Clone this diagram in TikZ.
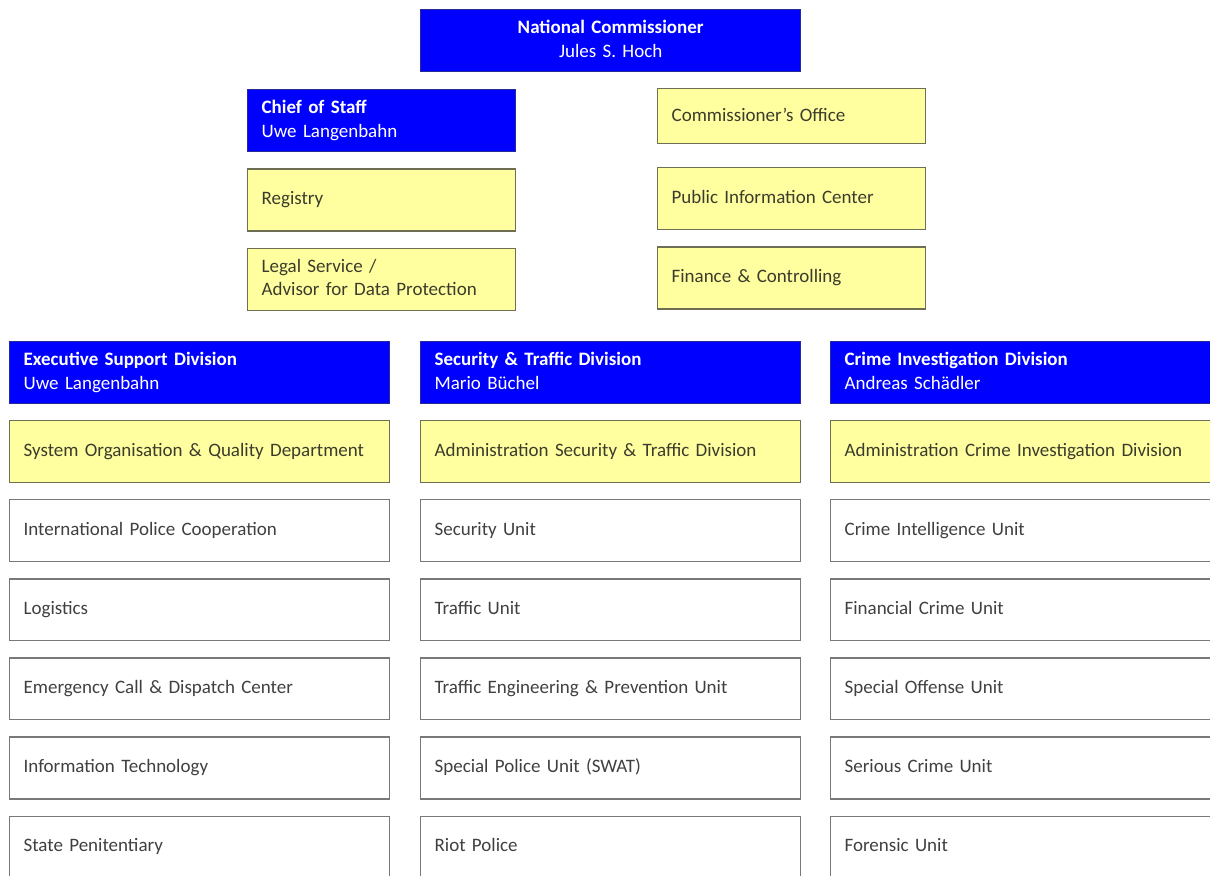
\documentclass[tikz,border=0pt]{standalone}
\usepackage{fontspec}
\setmainfont{Carlito}
\usetikzlibrary{positioning}
\definecolor{headblue}{RGB}{0,0,255}
\definecolor{headline}{RGB}{40,40,150}
\definecolor{staffyellow}{RGB}{255,255,160}
\definecolor{staffline}{RGB}{110,110,85}
\definecolor{staffink}{RGB}{60,60,45}
\definecolor{unitline}{RGB}{120,120,120}
\definecolor{unitink}{RGB}{64,64,64}
\begin{document}
\begin{tikzpicture}[x=0.025cm,y=-0.025cm,node distance=0.4cm,
		box/.style={draw, line width=0.9pt, anchor=north west, inner xsep=0.35cm, inner ysep=0pt, align=left, font=\fontsize{13.5}{17}\selectfont, execute at begin node=\strut, execute at end node=\strut},
		wide/.style={text width=8.8cm, minimum height=1.545cm},
		narrow/.style={text width=6.0cm, minimum height=1.55cm},
		head/.style={box, fill=headblue, draw=headline, text=white},
		staff/.style={box, fill=staffyellow, draw=staffline, text=staffink},
		unit/.style={box, fill=white, draw=unitline, text=unitink}]
		\useasboundingbox (0,0) rectangle (1210,875);
		% Commissioner
		\node [head, wide, align=center] (nc) at (420,9) {\textbf{National Commissioner}\\Jules S. Hoch};
		% Staff left
		\node [head, narrow] (cos) at (247,89) {\textbf{Chief of Staff}\\Uwe Langenbahn};
		\node [staff, narrow, below=of cos] (reg) {Registry};
		\node [staff, narrow, below=of reg] (legal) {Legal Service /\\Advisor for Data Protection};
		% Staff right
		\node [staff, narrow, minimum height=1.38cm] (office) at (657,88) {Commissioner's Office};
		\node [staff, narrow] (pic) at (657,167) {Public Information Center};
		\node [staff, narrow, below=of pic] (fin) {Finance \& Controlling};
		% Executive Support Division
		\node [head, wide] (esd) at (9,341) {\textbf{Executive Support Division}\\Uwe Langenbahn};
		\node [staff, wide, below=of esd] (esdq) {System Organisation \& Quality Department};
		\node [unit, wide, below=of esdq] (ipc) {International Police Cooperation};
		\node [unit, wide, below=of ipc] (log) {Logistics};
		\node [unit, wide, below=of log] (ecd) {Emergency Call \& Dispatch Center};
		\node [unit, wide, below=of ecd] (it) {Information Technology};
		\node [unit, wide, below=of it] (pen) {State Penitentiary};
		% Security & Traffic Division
		\node [head, wide] (std) at (420,341) {\textbf{Security \& Traffic Division}\\Mario Büchel};
		\node [staff, wide, below=of std] (stda) {Administration Security \& Traffic Division};
		\node [unit, wide, below=of stda] (sec) {Security Unit};
		\node [unit, wide, below=of sec] (traf) {Traffic Unit};
		\node [unit, wide, below=of traf] (tep) {Traffic Engineering \& Prevention Unit};
		\node [unit, wide, below=of tep] (swat) {Special Police Unit (SWAT)};
		\node [unit, wide, below=of swat] (riot) {Riot Police};
		% Crime Investigation Division
		\node [head, wide] (cid) at (830,341) {\textbf{Crime Investigation Division}\\Andreas Schädler};
		\node [staff, wide, below=of cid] (cida) {Administration Crime Investigation Division};
		\node [unit, wide, below=of cida] (intel) {Crime Intelligence Unit};
		\node [unit, wide, below=of intel] (fcu) {Financial Crime Unit};
		\node [unit, wide, below=of fcu] (sou) {Special Offense Unit};
		\node [unit, wide, below=of sou] (scu) {Serious Crime Unit};
		\node [unit, wide, below=of scu] (foru) {Forensic Unit};
	\end{tikzpicture}
\end{document}
